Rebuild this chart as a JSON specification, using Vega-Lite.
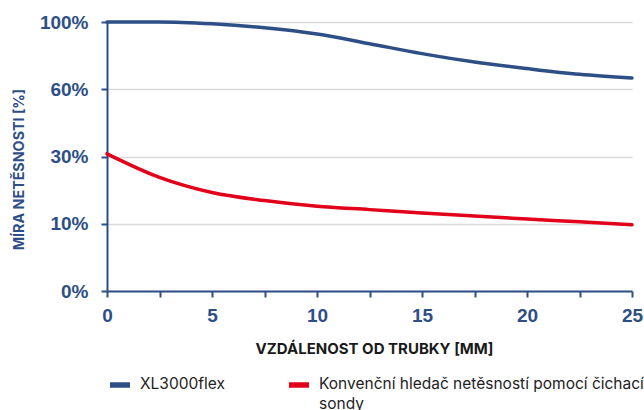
{
  "$schema": "https://vega.github.io/schema/vega-lite/v6.json",
  "width": 525,
  "height": 269,
  "autosize": {"type": "none"},
  "padding": {"left": 107, "top": 22, "right": 12, "bottom": 119},
  "background": "white",
  "config": {"view": {"stroke": null}},
  "data": {"values": [
    {"s": "XL3000flex", "x": 0, "y": 100},
    {"s": "XL3000flex", "x": 2.5, "y": 100},
    {"s": "XL3000flex", "x": 5, "y": 98.9},
    {"s": "XL3000flex", "x": 7.5, "y": 96.6},
    {"s": "XL3000flex", "x": 10, "y": 92.9},
    {"s": "XL3000flex", "x": 12.5, "y": 87.1},
    {"s": "XL3000flex", "x": 15, "y": 81.2},
    {"s": "XL3000flex", "x": 17.5, "y": 76.2},
    {"s": "XL3000flex", "x": 20, "y": 72.3},
    {"s": "XL3000flex", "x": 22.5, "y": 68.9},
    {"s": "XL3000flex", "x": 25, "y": 66.7},
    {"s": "Konvenční hledač netěsností pomocí čichací sondy", "x": 0, "y": 31.2},
    {"s": "Konvenční hledač netěsností pomocí čichací sondy", "x": 2.5, "y": 23.8},
    {"s": "Konvenční hledač netěsností pomocí čichací sondy", "x": 5, "y": 19.3},
    {"s": "Konvenční hledač netěsností pomocí čichací sondy", "x": 7.5, "y": 16.9},
    {"s": "Konvenční hledač netěsností pomocí čichací sondy", "x": 10, "y": 15.2},
    {"s": "Konvenční hledač netěsností pomocí čichací sondy", "x": 12.5, "y": 14.2},
    {"s": "Konvenční hledač netěsností pomocí čichací sondy", "x": 15, "y": 13.2},
    {"s": "Konvenční hledač netěsností pomocí čichací sondy", "x": 17.5, "y": 12.3},
    {"s": "Konvenční hledač netěsností pomocí čichací sondy", "x": 20, "y": 11.4},
    {"s": "Konvenční hledač netěsností pomocí čichací sondy", "x": 22.5, "y": 10.6},
    {"s": "Konvenční hledač netěsností pomocí čichací sondy", "x": 25, "y": 9.85}
  ]},
  "mark": {"type": "line", "interpolate": "monotone", "strokeWidth": 3.5, "strokeCap": "round"},
  "encoding": {
    "x": {
      "field": "x", "type": "quantitative",
      "scale": {"domain": [0, 25], "nice": false, "zero": false},
      "axis": {
        "values": [0, 2.5, 5, 7.5, 10, 12.5, 15, 17.5, 20, 22.5, 25],
        "labelExpr": "datum.value % 5 == 0 ? datum.value : ''",
        "grid": false,
        "domainColor": "#2d4f86", "domainWidth": 2,
        "tickColor": "#2d4f86", "tickWidth": 2, "tickSize": 6,
        "labelFont": "Liberation Sans", "labelFontWeight": "bold", "labelFontSize": 19,
        "labelColor": "#2d4f86", "labelPadding": 9, "labelFlush": false,
        "title": "VZDÁLENOST OD TRUBKY [MM]",
        "titleFont": "Inter", "titleFontWeight": "bold", "titleFontSize": 15,
        "titleColor": "#1a1a1a", "titleBaseline": "middle", "titleAlign": "center",
        "titleX": 267, "titleY": 57
      }
    },
    "y": {
      "field": "y", "type": "quantitative",
      "scale": {"domain": [0, 10, 30, 60, 100], "range": [269, 201.75, 134.5, 67.25, 0], "nice": false, "zero": false},
      "axis": {
        "values": [0, 10, 30, 60, 100],
        "labelExpr": "datum.value + '%'",
        "grid": true, "gridColor": "#d9d9d9", "gridWidth": 1.5,
        "domainColor": "#2d4f86", "domainWidth": 2,
        "tickColor": "#2d4f86", "tickWidth": 2, "tickSize": 6,
        "labelFont": "Liberation Sans", "labelFontWeight": "bold", "labelFontSize": 19,
        "labelColor": "#2d4f86", "labelPadding": 13,
        "title": "MÍRA NETĚSNOSTI [%]",
        "titleFont": "Inter", "titleFontWeight": "bold", "titleFontSize": 14.3,
        "titleColor": "#2d4f86", "titleBaseline": "middle", "titleAlign": "center",
        "titleX": -88, "titleY": 147, "titleAngle": -90
      }
    },
    "color": {
      "field": "s", "type": "nominal",
      "scale": {"domain": ["XL3000flex", "Konvenční hledač netěsností pomocí čichací sondy"], "range": ["#2d4f86", "#e2001a"]},
      "legend": {
        "title": null, "orient": "none", "legendX": 0, "legendY": 350,
        "direction": "horizontal", "columns": 2, "columnPadding": 53,
        "symbolType": "stroke", "symbolSize": 400, "symbolStrokeWidth": 5.5,
        "labelFont": "Inter", "labelFontSize": 15.5, "labelColor": "#222222", "labelLimit": 400,
        "labelOffset": 7, "labelBaseline": "top",
        "labelExpr": "datum.label == 'XL3000flex' ? ['XL3000flex', ''] : ['Konvenční hledač netěsností pomocí čichací', 'sondy']",
        "encode": {"labels": {"update": {"dy": {"value": -8}, "lineHeight": {"value": 19.5}}}}
      }
    }
  }
}
